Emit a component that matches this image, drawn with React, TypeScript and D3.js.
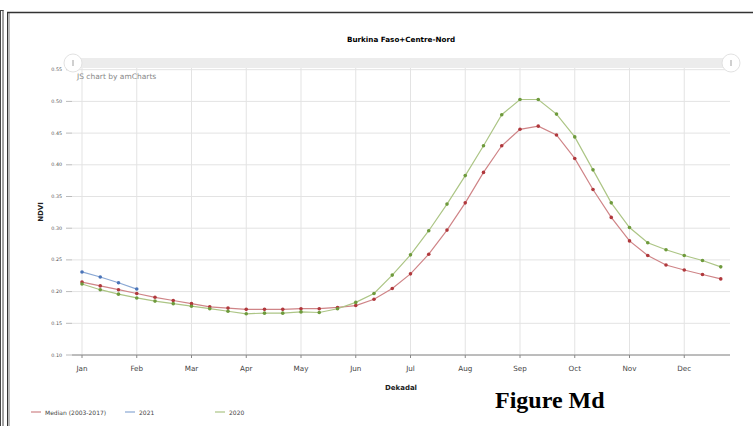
import React from "react";
import * as d3 from "d3";

const title = "Burkina Faso+Centre-Nord";
const months = ["Jan", "Feb", "Mar", "Apr", "May", "Jun", "Jul", "Aug", "Sep", "Oct", "Nov", "Dec"];
const yTicks = [0.1, 0.15, 0.2, 0.25, 0.3, 0.35, 0.4, 0.45, 0.5, 0.55];

const median = [
  0.215, 0.209, 0.203, 0.197, 0.191, 0.186, 0.181, 0.176, 0.174, 0.172, 0.172, 0.172,
  0.173, 0.173, 0.175, 0.178, 0.188, 0.205, 0.228, 0.259, 0.297, 0.34, 0.388, 0.43,
  0.456, 0.461, 0.447, 0.41, 0.361, 0.317, 0.28, 0.257, 0.242, 0.234, 0.227, 0.22,
];
const y2021 = [0.231, 0.223, 0.214, 0.204];
const y2020 = [
  0.212, 0.203, 0.196, 0.19, 0.185, 0.181, 0.177, 0.173, 0.169, 0.165, 0.166, 0.166,
  0.168, 0.167, 0.173, 0.183, 0.197, 0.226, 0.258, 0.296, 0.338, 0.383, 0.43, 0.479,
  0.503, 0.503, 0.48, 0.444, 0.392, 0.34, 0.301, 0.277, 0.266, 0.257, 0.249, 0.239,
];

const seriesList = [
  { name: "Median (2003-2017)", values: median, line: "#cf8487", dot: "#b0383c", lx: 31 },
  { name: "2021", values: y2021, line: "#8aa8d4", dot: "#4a74b8", lx: 125 },
  { name: "2020", values: y2020, line: "#acc585", dot: "#6e9a3c", lx: 215 },
];

const FONT = "'DejaVu Sans', Verdana, sans-serif";

export default function App() {
  const W = 753, H = 426;
  const left = 72, right = 730, top = 68, bottom = 355;
  const x = d3.scalePoint<number>().domain(d3.range(36)).range([82, 720.75]);
  const y = d3.scaleLinear().domain([0.1, 0.55]).range([bottom, bottom - 0.45 * 634]);
  const line = d3.line<number>().x((_, i) => x(i)!).y((v) => y(v));

  return (
    <div style={{ position: "absolute", left: 0, top: 0 }}>
      <svg width={W} height={H} style={{ display: "block", background: "#fff" }}>
        {/* frames */}
        <line x1={0.5} y1={10} x2={0.5} y2={H} stroke="#444" strokeWidth={1} />
        <line x1={3} y1={10} x2={3} y2={H} stroke="#444" strokeWidth={1} />
        <line x1={0} y1={10.5} x2={3.5} y2={10.5} stroke="#444" strokeWidth={1} />
        <line x1={7.5} y1={12} x2={7.5} y2={H} stroke="#333" strokeWidth={1} />
        <line x1={9} y1={12} x2={9} y2={H} stroke="#777" strokeWidth={1} />
        <line x1={7} y1={12.5} x2={W} y2={12.5} stroke="#333" strokeWidth={1.3} />

        <text x={401} y={42} textAnchor="middle" fontFamily={FONT} fontWeight="bold" fontSize={7.2} fill="#000">
          {title}
        </text>

        {/* horizontal grid + y labels */}
        {yTicks.map((t) => (
          <g key={t}>
            <line x1={left} x2={right} y1={y(t)} y2={y(t)} stroke="#e3e3e3" strokeWidth={1} />
            <line x1={66} x2={left} y1={y(t)} y2={y(t)} stroke="#bbb" strokeWidth={1} />
            <text x={62} y={y(t) + 1.5} textAnchor="end" fontFamily={FONT} fontSize={4.8} fill="#555">
              {t.toFixed(2)}
            </text>
          </g>
        ))}
        {/* vertical grid */}
        {months.map((m, i) => (
          <g key={m}>
            <line x1={x(i * 3)} x2={x(i * 3)} y1={top} y2={bottom} stroke="#e3e3e3" strokeWidth={1} />
            <line x1={x(i * 3)} x2={x(i * 3)} y1={bottom} y2={bottom + 3} stroke="#888" strokeWidth={1} />
            <text x={x(i * 3)} y={371} textAnchor="middle" fontFamily={FONT} fontSize={7.2} fill="#444">
              {m}
            </text>
          </g>
        ))}
        <line x1={left} x2={right} y1={bottom} y2={bottom} stroke="#888" strokeWidth={1} />

        {/* scrollbar */}
        <rect x={left} y={58} width={right - left} height={10} fill="#ececec" />
        {[73, 731].map((cx) => (
          <g key={cx}>
            <circle cx={cx} cy={63} r={9} fill="#fff" stroke="#e2e2e2" strokeWidth={1} />
            <rect x={cx - 1} y={60} width={2} height={6} fill="#d0d0d0" />
          </g>
        ))}
        <text x={77} y={79} fontFamily={FONT} fontSize={7.5} fill="#888">JS chart by amCharts</text>

        {/* series */}
        {seriesList.map((s) => (
          <g key={s.name}>
            <path d={line(s.values) || ""} fill="none" stroke={s.line} strokeWidth={1.2} />
            {s.values.map((v, i) => (
              <circle key={i} cx={x(i)} cy={y(v)} r={1.8} fill={s.dot} />
            ))}
          </g>
        ))}

        {/* axis titles */}
        <text x={401} y={390} textAnchor="middle" fontFamily={FONT} fontWeight="bold" fontSize={7} fill="#222">
          Dekadal
        </text>
        <text
          transform={`translate(43,212) rotate(-90)`}
          textAnchor="middle"
          fontFamily={FONT}
          fontWeight="bold"
          fontSize={7}
          fill="#222"
        >
          NDVI
        </text>

        {/* legend */}
        {seriesList.map((s) => (
          <g key={s.name + "-lg"}>
            <line x1={s.lx} x2={s.lx + 10} y1={412} y2={412} stroke={s.line} strokeWidth={1.2} />
            <text x={s.lx + 14} y={414.5} fontFamily={FONT} fontSize={6} fill="#444">
              {s.name}
            </text>
          </g>
        ))}

        <text x={495} y={408} fontFamily="'Liberation Serif', 'Times New Roman', serif" fontWeight="bold" fontSize={24} fill="#000">
          Figure Md
        </text>
      </svg>
    </div>
  );
}
